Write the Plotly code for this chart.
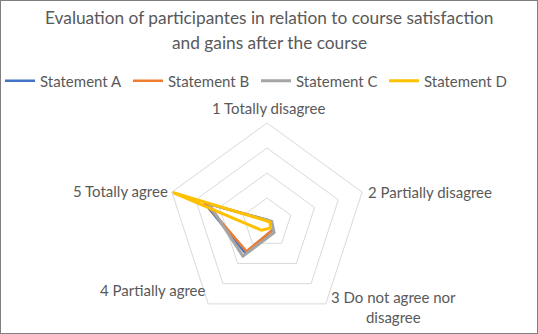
import plotly.graph_objects as go

categories = ["1 Totally disagree", "2 Partially disagree", "3 Do not agree nor disagree",
              "4 Partially agree", "5 Totally agree"]
category_labels = ["1 Totally disagree", "2 Partially disagree", "3 Do not agree nor<br>disagree",
                   "4 Partially agree", "5 Totally agree"]
series_names = ["Statement A", "Statement B", "Statement C", "Statement D"]
statement_a = [3, 4, 9, 37, 66]
statement_b = [3, 4, 9, 35, 65]
statement_c = [3, 5, 12, 41, 61]
statement_d = [2, 3, 6, 9, 100]
series_values = [statement_a, statement_b, statement_c, statement_d]
title_lines = ["Evaluation of participantes in relation to course satisfaction",
               "and gains after the course"]
colors = ["#4472C4", "#ED7D31", "#A5A5A5", "#FFC000"]
widths = [2.5, 2.5, 3, 3]

fig = go.Figure()
for name, vals, col, w in zip(series_names, series_values, colors, widths):
    fig.add_trace(go.Scatterpolar(
        r=vals + vals[:1], theta=categories + categories[:1],
        mode="lines", name=name, line=dict(color=col, width=w),
    ))

W, H = 538, 334
cx, cy, h = 267, 223, 100

def px(x):
    return x / W

def py(y):
    return 1 - y / H

annotations = []
for i, (t, yy) in enumerate(zip(title_lines, [17, 42])):
    annotations.append(dict(text=t, x=0.5, y=py(yy), xref="paper", yref="paper",
                            xanchor="center", yanchor="middle", showarrow=False,
                            font=dict(size=17.3, color="#595959")))
label_pos = [
    (268, 108, "center", "middle", "center"),
    (366, 192, "left", "middle", "left"),
    (329, 306.5, "left", "middle", "center"),
    (208, 290, "right", "middle", "right"),
    (170, 191, "right", "middle", "right"),
]
for lab, (x, y, xa, ya, al) in zip(category_labels, label_pos):
    annotations.append(dict(text=lab, x=px(x), y=py(y), xref="paper", yref="paper",
                            xanchor=xa, yanchor=ya, align=al, showarrow=False,
                            font=dict(size=15, color="#595959")))

fig.update_layout(
    width=W, height=H,
    margin=dict(l=0, r=0, t=0, b=0),
    paper_bgcolor="white",
    font=dict(family="Lato", color="#595959", size=15),
    legend=dict(orientation="h", x=0, xanchor="left", y=py(81), yanchor="middle",
                font=dict(size=15, color="#595959"), entrywidth=83, entrywidthmode="pixels",
                bgcolor="rgba(0,0,0,0)"),
    polar=dict(
        domain=dict(x=[px(cx - h), px(cx + h)], y=[py(cy + h), py(cy - h)]),
        gridshape="linear",
        bgcolor="white",
        radialaxis=dict(range=[0, 100], dtick=25, showticklabels=False, ticks="",
                        showline=False, gridcolor="#D9D9D9", gridwidth=1),
        angularaxis=dict(direction="clockwise", rotation=90, showgrid=False,
                         showticklabels=False,
                         linecolor="#D9D9D9", linewidth=1, ticks="",
                         categoryorder="array", categoryarray=categories),
    ),
    annotations=annotations,
    shapes=[dict(type="rect", xref="paper", yref="paper", x0=0, y0=0, x1=1, y1=1,
                 line=dict(color="#7F7F7F", width=2))],
)

fig.write_html("out.html", config={"displayModeBar": False},
               post_script="document.body.style.margin='0';")
